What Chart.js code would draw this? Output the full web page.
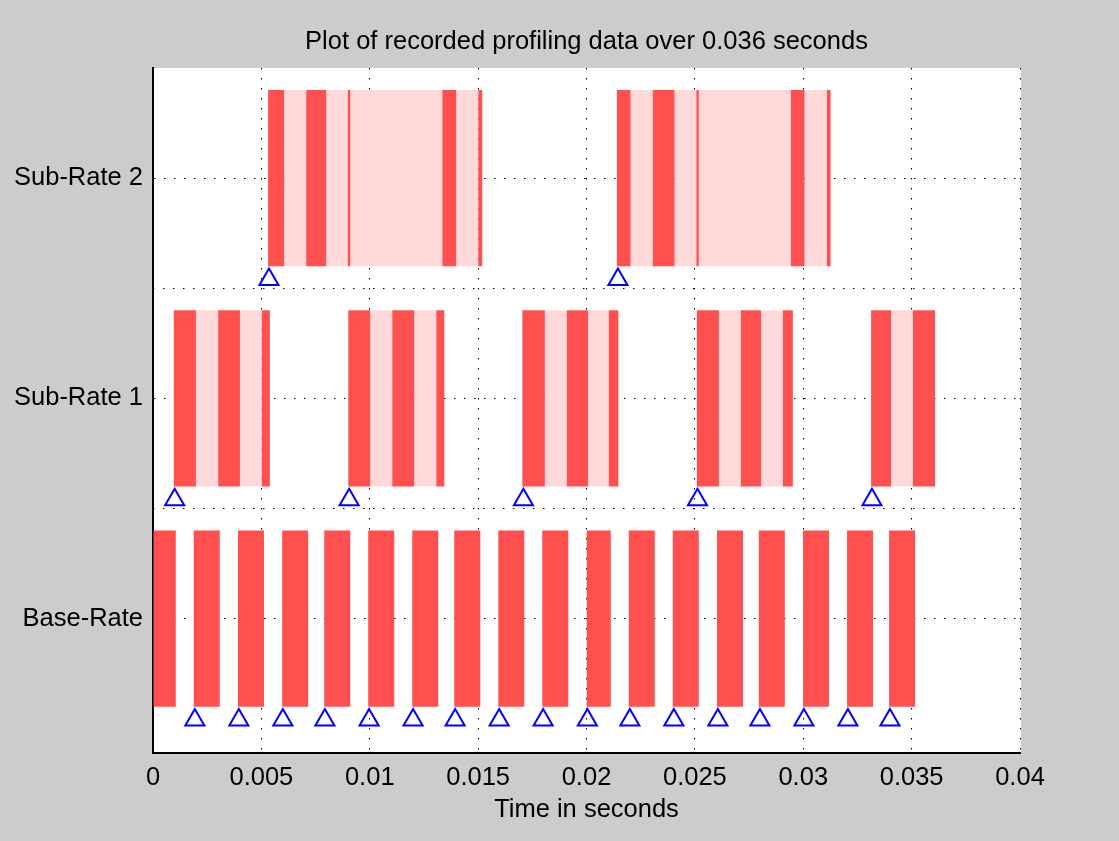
<!DOCTYPE html>
<html>
<head>
<meta charset="utf-8">
<script src="https://cdn.jsdelivr.net/npm/chart.js@4/dist/chart.umd.min.js"></script>
<style>
  html, body { margin: 0; padding: 0; background: #cccccc; overflow: hidden; }
  canvas { display: block; }
</style>
</head>
<body>
<canvas id="profile" width="1119" height="841"></canvas>
<script>
// rows of the profile plot
const rowNames = ['Base-Rate', 'Sub-Rate 1', 'Sub-Rate 2'];
const rowLevels = [1, 2, 3];
const rowBoundaries = [1.5, 2.5];
const xTicks = [0, 0.005, 0.01, 0.015, 0.02, 0.025, 0.03, 0.035, 0.04];

// busy intervals (dark) in seconds
const baseRateBusy = [
  [0, 0.00105], [0.00188, 0.00308], [0.00392, 0.00512], [0.00596, 0.00716],
  [0.0079, 0.0091], [0.00993, 0.01113], [0.01196, 0.01316], [0.0139, 0.0151],
  [0.01593, 0.01713], [0.01796, 0.01916], [0.02001, 0.02112], [0.02195, 0.02315],
  [0.02398, 0.02518], [0.02602, 0.02722], [0.02795, 0.02915], [0.02999, 0.03119],
  [0.03202, 0.03322], [0.03396, 0.03516]
];
const subRate1Busy = [
  [0.00096, 0.00198], [0.00301, 0.00401], [0.00502, 0.00539],
  [0.00901, 0.01002], [0.01104, 0.01205], [0.01307, 0.01344],
  [0.01704, 0.01808], [0.01909, 0.02007], [0.02103, 0.02147],
  [0.02509, 0.02611], [0.02712, 0.02805], [0.02906, 0.02952],
  [0.03313, 0.03405], [0.03506, 0.03608]
];
const subRate2Busy = [
  [0.00531, 0.00605], [0.00707, 0.00799], [0.00899, 0.0091], [0.01335, 0.01399], [0.01501, 0.01519],
  [0.0214, 0.02203], [0.02306, 0.02406], [0.02507, 0.02518], [0.02943, 0.03006], [0.03109, 0.03126]
];

// preempted intervals (light)
const subRate1Preempted = [
  [0.00198, 0.00301], [0.00401, 0.00502],
  [0.01002, 0.01104], [0.01205, 0.01307],
  [0.01808, 0.01909], [0.02007, 0.02103],
  [0.02611, 0.02712], [0.02805, 0.02906],
  [0.03405, 0.03506]
];
const subRate2Preempted = [
  [0.00605, 0.00707], [0.00799, 0.00899], [0.0091, 0.01335], [0.01399, 0.01501],
  [0.02203, 0.02306], [0.02406, 0.02507], [0.02518, 0.02943], [0.03006, 0.03109]
];

// task start markers
const baseRateStarts = [0.00193, 0.00396, 0.00599, 0.00793, 0.00997, 0.012, 0.01394, 0.01597, 0.018,
  0.02004, 0.022, 0.02403, 0.02606, 0.028, 0.03003, 0.03206, 0.034];
const subRate1Starts = [0.001, 0.00905, 0.01709, 0.02512, 0.03317];
const subRate2Starts = [0.00535, 0.02145];

const markerDrop = 0.46;
const font = { family: '"Liberation Sans", Arial, sans-serif', size: 25.5 };

function toBars(segments, level) {
  return segments.map(s => ({ x: [s[0], s[1]], y: level }));
}
function toMarks(times, level) {
  return times.map(t => ({ x: t, y: level - markerDrop }));
}

const busyData = [].concat(
  toBars(baseRateBusy, rowLevels[0]),
  toBars(subRate1Busy, rowLevels[1]),
  toBars(subRate2Busy, rowLevels[2])
);
const preemptedData = [].concat(
  toBars(subRate1Preempted, rowLevels[1]),
  toBars(subRate2Preempted, rowLevels[2])
);
const startData = [].concat(
  toMarks(baseRateStarts, rowLevels[0]),
  toMarks(subRate1Starts, rowLevels[1]),
  toMarks(subRate2Starts, rowLevels[2])
);

const plotBackground = {
  id: 'plotBackground',
  beforeDraw(chart) {
    const { ctx, chartArea: a } = chart;
    ctx.save();
    ctx.fillStyle = '#ffffff';
    ctx.fillRect(a.left, a.top, a.right - a.left + 1, a.bottom - a.top);
    ctx.restore();
  }
};

const dotted = [1.5, 8.5];

new Chart(document.getElementById('profile'), {
  type: 'bar',
  data: {
    datasets: [
      {
        label: 'busy',
        data: busyData,
        backgroundColor: '#ff5050',
        borderWidth: 0,
        grouped: false,
        categoryPercentage: 1,
        barPercentage: 0.8,
        order: 2
      },
      {
        label: 'preempted',
        data: preemptedData,
        backgroundColor: '#ffd9d9',
        borderWidth: 0,
        grouped: false,
        categoryPercentage: 1,
        barPercentage: 0.8,
        order: 3
      },
      {
        type: 'scatter',
        label: 'start',
        indexAxis: 'x',
        data: startData,
        pointStyle: 'triangle',
        pointRadius: 11,
        borderColor: '#0000ff',
        backgroundColor: 'rgba(0,0,0,0)',
        borderWidth: 2,
        order: 0
      }
    ]
  },
  options: {
    indexAxis: 'y',
    responsive: false,
    animation: false,
    events: [],
    layout: { padding: { left: 0, right: 99, top: 0, bottom: 0 } },
    plugins: {
      legend: { display: false },
      tooltip: { enabled: false },
      title: {
        display: true,
        text: 'Plot of recorded profiling data over 0.036 seconds',
        fullSize: false,
        color: '#000',
        font: { ...font, weight: 'normal' },
        padding: { top: 26.7, bottom: 10.7 }
      }
    },
    scales: {
      x: {
        type: 'linear',
        position: 'bottom',
        min: 0,
        max: 0.04,
        offset: false,
        afterBuildTicks: s => { s.ticks = xTicks.map(v => ({ value: v })); },
        afterFit: s => { s.height = 88; },
        ticks: {
          callback: v => String(v),
          color: '#000',
          font: font,
          padding: 10,
          maxRotation: 0,
          autoSkip: false
        },
        grid: { color: '#000', lineWidth: 1, drawTicks: false, offset: false },
        border: { display: true, color: '#000', width: 2, dash: dotted },
        title: {
          display: true,
          text: 'Time in seconds',
          color: '#000',
          font: font,
          padding: { top: 0, bottom: 15.7 }
        }
      },
      y: {
        type: 'linear',
        position: 'left',
        min: 0.39,
        max: 3.5,
        offset: false,
        afterBuildTicks: s => { s.ticks = rowLevels.map(v => ({ value: v })); },
        afterFit: s => { s.width = 153; },
        ticks: {
          callback: v => rowNames[rowLevels.indexOf(v)],
          color: '#000',
          font: font,
          padding: 10
        },
        grid: { color: '#000', lineWidth: 1, drawTicks: false, offset: false },
        border: { display: true, color: '#000', width: 2, dash: dotted }
      },
      y2: {
        type: 'linear',
        position: 'right',
        min: 0.39,
        max: 3.5,
        offset: false,
        afterBuildTicks: s => { s.ticks = rowBoundaries.map(v => ({ value: v })); },
        afterFit: s => { s.width = 0; },
        ticks: { display: false },
        grid: { color: '#000', lineWidth: 1, drawTicks: false, offset: false },
        border: { display: false, dash: dotted }
      }
    }
  },
  plugins: [plotBackground]
});
</script>
</body>
</html>
